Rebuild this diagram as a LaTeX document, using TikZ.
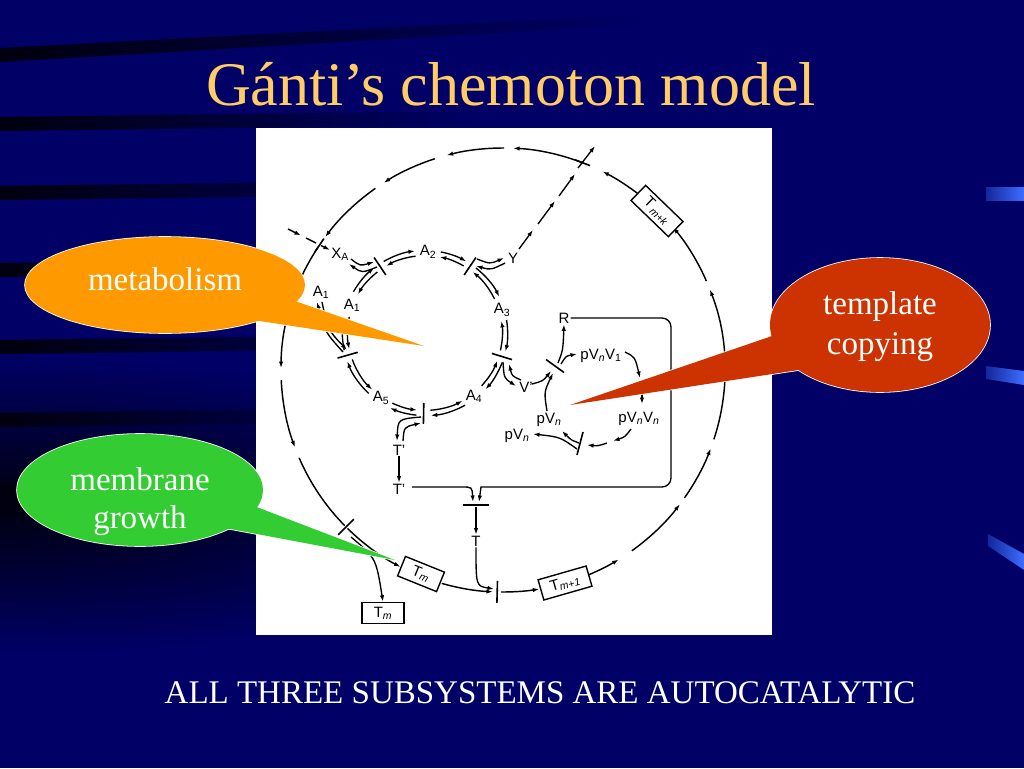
\documentclass[tikz,border=0pt]{standalone}
\usepackage{fontspec}
\setmainfont{Liberation Serif}
\newfontfamily\labfont{Liberation Sans}
\usetikzlibrary{arrows.meta,calc}
\definecolor{navy}{RGB}{0,0,102}
\definecolor{stripe}{RGB}{0,0,14}
\definecolor{titlec}{RGB}{255,204,102}
\definecolor{orangec}{RGB}{255,153,0}
\definecolor{redc}{RGB}{204,51,0}
\definecolor{greenc}{RGB}{51,204,51}
\definecolor{glow}{RGB}{60,110,255}
\newcommand\memseg[3][]{\draw[mem,#1] ($(co)+(#2:222)$) arc[start angle=#2,end angle=#3,radius=222];}
\newcommand\dblarc[2]{%
  \draw[ln,arr] ($(ci)+(#1:82.6)$) arc[start angle=#1,end angle=#2,radius=82.6];
  \draw[ln,arr] ($(ci)+(#2:77.4)$) arc[start angle=#2,end angle=#1,radius=77.4];}
\newcommand\inbar[1]{\draw[barl] ($(ci)+(#1:70)$) -- ($(ci)+(#1:91)$);}
\begin{document}
\begin{tikzpicture}[x=1pt,y=-1pt,
  ln/.style={line width=1.35pt, black},
  mem/.style={line width=1.45pt, black},
  barl/.style={line width=1.6pt, black},
  arr/.style={-{Latex[length=6.5pt,width=4.4pt]}},
  lab/.style={font=\labfont\fontsize{15}{15}\selectfont, inner sep=1pt, text=black},
  tbox/.style={draw, line width=1.4pt, font=\labfont\fontsize{15}{15}\selectfont, minimum height=21, inner sep=1.5pt, fill=white},
  ctext/.style={font=\fontsize{33}{33}\selectfont, text=white, anchor=base},
  glowbar/.style={left color=glow!35!navy, right color=glow},
]
\useasboundingbox (0,0) rectangle (1024,768);
% ---------- background ----------
\fill[navy] (0,0) rectangle (1024,768);
\shade[inner color=stripe, outer color=navy] (0,505) ellipse[x radius=560, y radius=150];
\shade[left color=stripe, right color=navy] (0,48) -- (650,14) -- (650,24) -- (0,62) -- cycle;
\foreach \yy in {124,193,270,347,420,490} {
  \shade[left color=stripe, right color=navy] (0,\yy-7) -- (480,\yy-13) -- (480,\yy+1) -- (0,\yy+7) -- cycle;
}
\shade[glowbar] (986,187) -- (1024,187) -- (1024,200) -- (986,200) -- cycle;
\shade[glowbar] (986,366) -- (1024,371) -- (1024,385) -- (986,379) -- cycle;
\shade[glowbar] (988,534) -- (1024,554) -- (1024,570) -- (988,546) -- cycle;
% ---------- title and conclusion ----------
\node[font=\fontsize{62}{62}\selectfont, text=titlec, anchor=base, inner sep=0] (title) at (511,105) {Gánti’s chemoton model};
\node[font=\fontsize{33}{33}\selectfont, text=white, anchor=base, inner sep=0] (concl) at (540,703) {ALL THREE SUBSYSTEMS ARE AUTOCATALYTIC};
% ---------- white figure panel ----------
\fill[white] (256,128) rectangle (772,635);
\coordinate (co) at (503,370);
\coordinate (ci) at (425,333);
% ---------- outer membrane ----------
\memseg[arr]{291}{272.6}
\memseg[arr]{270.3}{255.3}
\memseg[arr]{252.1}{237.5}
\memseg[arr]{234.9}{216.8}
\memseg[arr]{213.5}{180.5}
\memseg[arr]{177.4}{159.6}
\memseg{156.7}{135.5}
\memseg[arr]{134.5}{117.5}
\memseg[arr]{106}{92.6}
\memseg[arr]{90.5}{80.6}
\memseg[arr]{67.2}{58.6}
\memseg[arr]{54.5}{37.2}
\memseg[arr]{35.2}{20.7}
\memseg[arr]{18.2}{-21.3}
\memseg[arr]{-23.6}{-40}
\memseg[arr]{-51.8}{-63.4}
\draw[barl] ($(co)+(214.2:222)+(304.2:8)$) -- ($(co)+(214.2:222)+(124.2:8)$);
\draw[barl] ($(co)+(291:222)+(21:8)$) -- ($(co)+(291:222)+(201:8)$);
\draw[barl] ($(co)+(135:211)$) -- ($(co)+(135:233)$);
\draw[barl] ($(co)+(91.5:211)$) -- ($(co)+(91.5:233)$);
\node[tbox, rotate=-22, minimum width=42] (Tm) at (421,574) {T\textsubscript{\itshape m}};
\node[tbox, rotate=16, minimum width=50] (Tm1) at (565,583) {T\textsubscript{\itshape m+1}};
\node[tbox, rotate=-44, minimum width=52] (Tmk) at (657,211) {T\kern1.5pt\textsubscript{\itshape m+k}};
\node[tbox, minimum width=42] (Tmo) at (383,613) {T\textsubscript{\itshape m}};
\draw[ln,arr] (351,537) .. controls (376,558) .. (Tmo.north);
% ---------- metabolic cycle ----------
\inbar{236}\inbar{304}\inbar{17}\inbar{91}\inbar{164}
\dblarc{240}{263}
\dblarc{281}{300}
\dblarc{308}{334}
\dblarc{351}{373}
\dblarc{21}{43}
\dblarc{61}{86}
\dblarc{96}{115}
\dblarc{133}{160}
\dblarc{168}{192}
\dblarc{210}{232}
\node[lab] (XA) at (340,254) {X\textsubscript{A}};
\node[lab] (A2) at (428,252) {A\textsubscript{2}};
\node[lab] (Y) at (513,258) {Y};
\node[lab] (A1o) at (321,292) {A\textsubscript{1}};
\node[lab] (A1i) at (352,305) {A\textsubscript{1}};
\node[lab] (A3) at (502,310) {A\textsubscript{3}};
\node[lab] (A4) at (474,396) {A\textsubscript{4}};
\node[lab] (A5) at (381,398) {A\textsubscript{5}};
\node[lab] (Vp) at (526,387) {V’};
\node[lab] (T1) at (399,450) {T’};
\node[lab] (T2) at (399,489) {T’};
\node[lab] (T) at (476,541) {T};
\node[lab] (R) at (564,318) {R};
\node[lab] (pv1) at (601,356) {pV\textsubscript{\itshape n}V\textsubscript{1}};
\node[lab] (pvn) at (639,419) {pV\textsubscript{\itshape n}V\textsubscript{\itshape n}};
\node[lab] (pin) at (549,420) {pV\textsubscript{\itshape n}};
\node[lab] (pout) at (517,436) {pV\textsubscript{\itshape n}};
% X_A input
\draw[ln,arr] (288,229) -- (301,235.5);
\draw[ln] (306,238) -- (316,243);
\draw[ln,arr] (321,245.5) -- (330,250);
% Y output
\draw[ln,arr] (519,249) -- (533,230);
\draw[ln,arr] (538,224) -- (555,201);
\draw[ln,arr] (559,196) -- (575,174);
\draw[ln,arr] (578,168) -- (595,146);
% branches at reaction bars
\draw[ln,arr] (477,259) .. controls (490,264) .. (504,258);
\draw[ln,arr] (505,263) .. controls (491,270) .. (476,266);
\draw[ln,arr] (351,259) .. controls (360,266) .. (374,262);
\draw[ln,arr] (377,267) .. controls (362,273) .. (349,264);
\draw[ln,arr] (343,352) .. controls (325,332) .. (317,302);
\draw[ln,arr] (322,302) .. controls (328,330) .. (347,350);
\draw[ln,arr] (503,362) .. controls (504,378) .. (516,386);
\draw[ln,arr] (521,380) .. controls (512,376) .. (509,364);
\draw[ln,arr] (421,417) .. controls (398,419) .. (397,441);
\draw[ln,arr] (403,441) .. controls (404,427) .. (421,423);
\draw[ln,arr] (T1.south) -- (T2.north);
\draw[ln,arr] (412,487) -- (462,487) .. controls (472,487) .. (473,502);
\draw[ln,arr,rounded corners=9] (R.east) -- (671,318) -- (671,487) -- (490,487) .. controls (481,487) .. (479,502);
\draw[barl] (463,505) -- (489,505);
\draw[ln,arr] (476,507) -- (T.north);
\draw[ln,arr] (T.south) .. controls (476,586) .. (494,589);
% ---------- template cycle ----------
\draw[barl] (546,359.5) -- (564,372.5);
\draw[ln,arr] (532,384) .. controls (543,381) .. (551,371);
\draw[ln,arr] (547,411) .. controls (544,392) .. (553,373);
\draw[ln,arr] (558,363) .. controls (563,350) .. (R.south);
\draw[ln,arr] (561,364) .. controls (566,356) .. (577,354);
\draw[ln,arr] (625,352) .. controls (635,357) .. (640,378);
\draw[ln,arr] (642,389) -- (642,404);
\draw[ln,arr] (631,429) .. controls (625,437) .. (613,441);
\draw[ln,arr] (607,443) .. controls (598,446) .. (587,445);
\draw[barl] (583,432) -- (577,455);
\draw[ln,arr] (579,443) .. controls (571,440) .. (562,431);
\draw[ln,arr] (577,449) .. controls (560,437) .. (533,434);
% ---------- callouts ----------
\draw[white, line width=1.6pt] (165,285) ellipse[x radius=140, y radius=48];
\draw[white, line width=1.6pt] (240,318) -- (424,346) -- (292,300) -- cycle;
\fill[orangec] (165,285) ellipse[x radius=140, y radius=48];
\fill[orangec] (240,318) -- (424,346) -- (292,300) -- cycle;
\node[ctext] (met) at (165,290) {metabolism};
\draw[white, line width=1.6pt] (880,325) ellipse[x radius=110, y radius=67];
\draw[white, line width=1.6pt] (778,334) -- (570,405) -- (805,369) -- cycle;
\fill[redc] (880,325) ellipse[x radius=110, y radius=67];
\fill[redc] (778,334) -- (570,405) -- (805,369) -- cycle;
\node[ctext] (tpl1) at (880,314) {template};
\node[ctext] (tpl2) at (880,354) {copying};
\draw[white, line width=1.6pt] (140,490) ellipse[x radius=123, y radius=56];
\draw[white, line width=1.6pt] (225,528) -- (395,560) -- (254,506) -- cycle;
\fill[greenc] (140,490) ellipse[x radius=123, y radius=56];
\fill[greenc] (225,528) -- (395,560) -- (254,506) -- cycle;
\node[ctext] (mem1) at (140,490) {membrane};
\node[ctext] (mem2) at (140,528) {growth};
\end{tikzpicture}
\end{document}
